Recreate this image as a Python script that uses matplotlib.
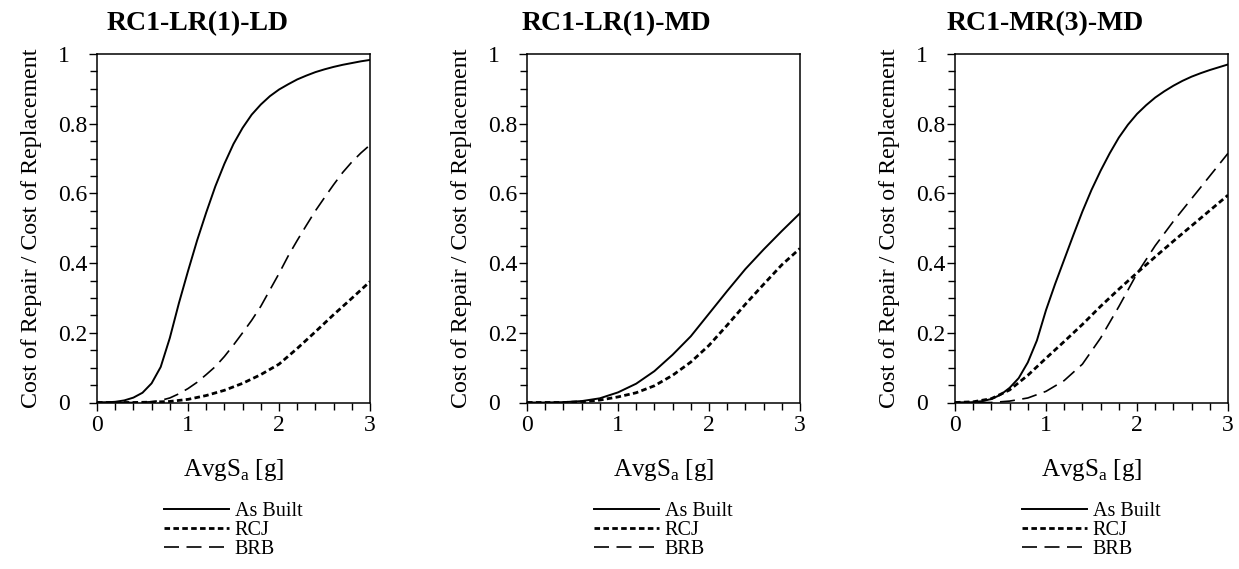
import matplotlib
matplotlib.use("Agg")
import matplotlib.pyplot as plt
from matplotlib.ticker import MultipleLocator

plt.rcParams['font.family'] = ['Liberation Serif', 'DejaVu Serif']
plt.rcParams['mathtext.fontset'] = 'custom'
plt.rcParams['mathtext.rm'] = 'Liberation Serif'

titles = ["RC1-LR(1)-LD", "RC1-LR(1)-MD", "RC1-MR(3)-MD"]
legend_labels = ["As Built", "RCJ", "BRB"]

# AvgSa grids [g]
x_fine = [i / 10 for i in range(31)]
x_coarse = [i / 5 for i in range(16)]

# RC1-LR(1)-LD
ld_built = [0, 0.0005, 0.002, 0.006, 0.014, 0.028, 0.055, 0.102, 0.185, 0.285, 0.377,
            0.465, 0.545, 0.62, 0.685, 0.742, 0.788, 0.826, 0.855, 0.879, 0.898,
            0.913, 0.927, 0.938, 0.948, 0.956, 0.963, 0.969, 0.974, 0.979, 0.983]
ld_rcj = [0, 0, 0, 0.001, 0.003, 0.009, 0.02, 0.035, 0.055, 0.08, 0.11,
          0.155, 0.203, 0.252, 0.299, 0.347]
ld_brb = [0, 0, 0, 0, 0, 0.001, 0.002, 0.006, 0.013, 0.025, 0.04,
          0.058, 0.08, 0.103, 0.132, 0.165, 0.20, 0.236, 0.276, 0.323, 0.37,
          0.42, 0.465, 0.508, 0.55, 0.588, 0.625, 0.66, 0.69, 0.716, 0.739]

# RC1-LR(1)-MD (no BRB curve)
md_built = [0, 0, 0.001, 0.004, 0.012, 0.029, 0.054, 0.09, 0.137, 0.19,
            0.255, 0.32, 0.383, 0.439, 0.492, 0.543]
md_rcj = [0, 0, 0, 0.002, 0.007, 0.016, 0.028, 0.048, 0.078, 0.116, 0.164,
          0.222, 0.282, 0.339, 0.395, 0.442]

# RC1-MR(3)-MD
mr_built = [0, 0, 0.001, 0.004, 0.01, 0.022, 0.042, 0.07, 0.115, 0.178, 0.265,
            0.34, 0.41, 0.48, 0.548, 0.61, 0.665, 0.715, 0.76, 0.797, 0.828,
            0.853, 0.875, 0.893, 0.909, 0.923, 0.935, 0.945, 0.954, 0.962, 0.97]
mr_rcj = [0, 0.002, 0.011, 0.036, 0.078, 0.127, 0.175, 0.224, 0.276, 0.325,
          0.372, 0.418, 0.463, 0.507, 0.551, 0.595]
mr_brb = [0, 0, 0, 0.004, 0.013, 0.032, 0.063, 0.11, 0.185, 0.275, 0.37,
          0.45, 0.52, 0.585, 0.65, 0.715]

panels = [
    [(x_fine, ld_built), (x_coarse, ld_rcj), (x_fine, ld_brb)],
    [(x_coarse, md_built), (x_coarse, md_rcj), None],
    [(x_fine, mr_built), (x_coarse, mr_rcj), (x_coarse, mr_brb)],
]

styles = [
    dict(color='black', lw=1.4, linestyle='-'),
    dict(color='black', lw=2.0, linestyle=(0, (2.0, 1.2))),
    dict(color='black', lw=1.2, linestyle=(0, (9, 4.5))),
]

fig = plt.figure(figsize=(12.39, 5.69), dpi=100)
W, H = 1239, 569
lefts = [97, 527, 955]
ax_w, ax_top, ax_bot = 273, 54, 402.5
title_dx = [-36, -47, -46]

for k in range(3):
    ax = fig.add_axes([lefts[k] / W, 1 - ax_bot / H, ax_w / W, (ax_bot - ax_top) / H])
    for j in range(3):
        if panels[k][j] is not None:
            xs, ys = panels[k][j]
            ax.plot(xs, ys, label=legend_labels[j], **styles[j])
        else:
            ax.plot([], [], label=legend_labels[j], **styles[j])
    ax.set_xlim(0, 3)
    ax.set_ylim(0, 1)
    ax.xaxis.set_major_locator(MultipleLocator(1))
    ax.xaxis.set_minor_locator(MultipleLocator(0.2))
    ax.yaxis.set_minor_locator(MultipleLocator(0.05))
    ax.set_yticks([0, 0.2, 0.4, 0.6, 0.8, 1.0])
    ax.set_yticklabels(["0", "0.2", "0.4", "0.6", "0.8", "1"])
    ax.tick_params(which='major', direction='out', length=6, width=1, labelsize=17)
    ax.tick_params(which='minor', direction='out', length=5, width=1)
    ax.tick_params(axis='x', which='major', pad=3)
    # y tick labels are left-aligned, as in the original
    ax.tick_params(axis='y', which='major', pad=22)
    for lab in ax.get_yticklabels():
        lab.set_horizontalalignment('left')
    for sp in ax.spines.values():
        sp.set_linewidth(1.1)
    ax.set_ylabel("Cost of Repair / Cost of Replacement", fontsize=17.3)
    ax.yaxis.set_label_coords(-0.2, 0.5)
    ax.set_xlabel("AvgS$_\\mathrm{a}$ [g]", fontsize=18)
    ax.xaxis.set_label_coords(0.5, -0.155)
    ax.legend(loc='center', bbox_to_anchor=(0.5, -0.367), frameon=False,
              fontsize=14.5, handlelength=3.2, handletextpad=0.3,
              labelspacing=0.0, borderaxespad=0, borderpad=0)
    cx = lefts[k] + ax_w / 2 + title_dx[k]
    fig.text(cx / W, 1 - 24 / H, titles[k], fontsize=20,
             fontweight='bold', ha='center', va='center')

fig.savefig("out.png", dpi=100)
